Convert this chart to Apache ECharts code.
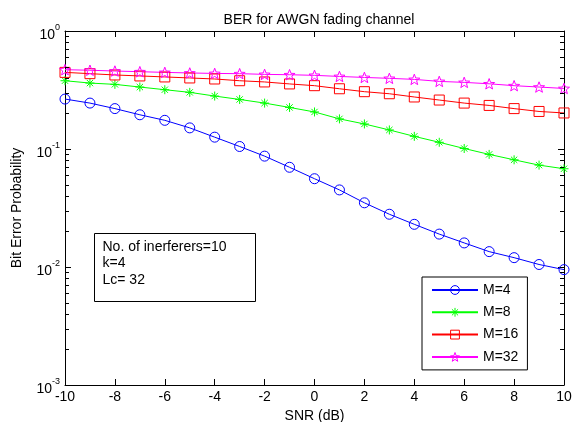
<!DOCTYPE html>
<html>
<head>
<meta charset="utf-8">
<script src="https://cdn.jsdelivr.net/npm/echarts@6/dist/echarts.min.js"></script>
<style>
  html, body { margin: 0; padding: 0; background: #fff; }
  #chart { width: 573px; height: 422px; }
</style>
</head>
<body>
<div id="chart"></div>
<script>
var snr = [-10, -9, -8, -7, -6, -5, -4, -3, -2, -1, 0, 1, 2, 3, 4, 5, 6, 7, 8, 9, 10];
var berM4 = [0.265, 0.245, 0.220, 0.195, 0.175, 0.151, 0.126, 0.105, 0.087, 0.070, 0.056, 0.045, 0.035, 0.028, 0.023, 0.019, 0.016, 0.0135, 0.012, 0.0105, 0.0095];
var berM8 = [0.379, 0.362, 0.353, 0.335, 0.318, 0.302, 0.281, 0.263, 0.245, 0.225, 0.206, 0.180, 0.163, 0.145, 0.128, 0.114, 0.101, 0.090, 0.081, 0.073, 0.068];
var berM16 = [0.446, 0.435, 0.424, 0.416, 0.408, 0.400, 0.392, 0.379, 0.370, 0.356, 0.344, 0.324, 0.306, 0.294, 0.276, 0.260, 0.245, 0.234, 0.220, 0.208, 0.202];
var berM32 = [0.470, 0.465, 0.458, 0.452, 0.446, 0.441, 0.437, 0.435, 0.429, 0.426, 0.421, 0.412, 0.404, 0.397, 0.389, 0.374, 0.367, 0.357, 0.344, 0.335, 0.326];
var seriesNames = ['M=4', 'M=8', 'M=16', 'M=32'];
var noteLines = ['No. of inerferers=10', 'k=4', 'Lc= 32'];
var minorTicks = [0.002, 0.003, 0.004, 0.005, 0.006, 0.007, 0.008, 0.009,
                  0.02, 0.03, 0.04, 0.05, 0.06, 0.07, 0.08, 0.09,
                  0.2, 0.3, 0.4, 0.5, 0.6, 0.7, 0.8, 0.9];

var font = '"Liberation Sans", Arial, sans-serif';
var hollow = 'none';

// pentagram outline for the M=32 markers
function starPath() {
  var pts = [];
  for (var i = 0; i < 10; i++) {
    var r = i % 2 === 0 ? 1 : 0.42;
    var a = -Math.PI / 2 + i * Math.PI / 5;
    pts.push((r * Math.cos(a)).toFixed(3) + ',' + (r * Math.sin(a)).toFixed(3));
  }
  return 'path://M' + pts.join('L') + 'Z';
}
var asterisk = 'path://M0,-1L0,1M-1,0L1,0M-0.7,-0.7L0.7,0.7M-0.7,0.7L0.7,-0.7';

function pairs(ys) {
  return snr.map(function (x, i) { return [x, ys[i]]; });
}

function mkSeries(name, ys, col, symbol, size) {
  return {
    name: name,
    type: 'line',
    data: pairs(ys),
    symbol: symbol,
    symbolSize: size,
    symbolKeepAspect: true,
    showAllSymbol: true,
    lineStyle: { color: col, width: 1 },
    itemStyle: { color: hollow, borderColor: col, borderWidth: 1 },
    emphasis: { disabled: true }
  };
}

function yAx(pos) {
  return {
    type: 'log', logBase: 10, min: 0.001, max: 1, position: pos,
    axisLine: { onZero: false, lineStyle: { color: '#000', width: 1 } },
    axisTick: { show: true, inside: true, length: 6, lineStyle: { color: '#000', width: 1 } },
    axisLabel: { show: false },
    splitLine: { show: false }
  };
}

// matlab style minor ticks of the log axis, on both sides of the box
var minorTickSeries = {
  type: 'custom',
  silent: true,
  clip: false,
  z: 5,
  data: minorTicks.map(function (v) { return [snr[0], v]; }),
  encode: { x: 0, y: 1 },
  renderItem: function (params, api) {
    var v = api.value(1);
    var l = api.coord([snr[0], v]);
    var r = api.coord([snr[snr.length - 1], v]);
    var yy = Math.round(l[1]);
    return {
      type: 'group',
      children: [
        { type: 'rect', shape: { x: Math.round(l[0]), y: yy, width: 4, height: 1 }, style: { fill: '#000' } },
        { type: 'rect', shape: { x: Math.round(r[0]) - 4, y: yy, width: 4, height: 1 }, style: { fill: '#000' } }
      ]
    };
  }
};

var chart = echarts.init(document.getElementById('chart'));

var yMain = yAx('left');
yMain.name = 'Bit Error Probability';
yMain.nameLocation = 'middle';
yMain.nameGap = 41;
yMain.nameTextStyle = { fontFamily: font, fontSize: 14, color: '#000' };
yMain.axisLabel = {
  fontFamily: font,
  color: '#000',
  margin: 5,
  formatter: function (v) {
    var e = Math.round(Math.log10(v));
    return '{b|10}{e|' + e + '}';
  },
  rich: {
    b: { fontSize: 14, fontFamily: font, color: '#000', padding: [8, 0, 0, 0] },
    e: { fontSize: 9, fontFamily: font, color: '#000', padding: [0, 0, 6, 0] }
  }
};

var xTick = { show: true, inside: true, length: 6, lineStyle: { color: '#000', width: 1 } };

var option = {
  animation: false,
  backgroundColor: '#fff',
  title: {
    text: 'BER for AWGN fading channel',
    left: 314, top: 8,
    textAlign: 'center',
    textStyle: { fontFamily: font, fontSize: 14, fontWeight: 'normal', color: '#000' }
  },
  grid: { left: 65, right: 9, top: 31, bottom: 37, containLabel: false, outerBoundsMode: 'none' },
  legend: {
    data: seriesNames,
    orient: 'vertical',
    left: 422, top: 277,
    itemWidth: 46, itemHeight: 11, itemGap: 8.3,
    padding: [6, 9, 6, 9],
    borderColor: '#000', borderWidth: 1,
    backgroundColor: '#fff',
    itemStyle: { color: hollow, borderColor: 'inherit', borderWidth: 1 },
    textStyle: { fontFamily: font, fontSize: 14, color: '#000' },
    selectedMode: false
  },
  xAxis: [{
    type: 'value', min: -10, max: 10, interval: 2,
    name: 'SNR (dB)', nameLocation: 'middle', nameGap: 22,
    nameTextStyle: { fontFamily: font, fontSize: 14, color: '#000' },
    axisLine: { onZero: false, lineStyle: { color: '#000', width: 1 } },
    axisTick: xTick,
    axisLabel: { fontFamily: font, fontSize: 14, color: '#000', margin: 5 },
    splitLine: { show: false }
  }, {
    type: 'value', min: -10, max: 10, interval: 2, position: 'top',
    axisLine: { onZero: false, lineStyle: { color: '#000', width: 1 } },
    axisTick: xTick,
    axisLabel: { show: false },
    splitLine: { show: false }
  }],
  yAxis: [yMain, yAx('right')],
  graphic: [{
    type: 'group', left: 94, top: 233,
    children: [{
      type: 'rect',
      shape: { x: 0, y: 0, width: 161, height: 68 },
      style: { fill: '#fff', stroke: '#000', lineWidth: 1 }
    }, {
      type: 'text', x: 8, y: 5,
      style: {
        text: noteLines.join('\n'),
        font: '14px ' + font,
        lineHeight: 16.5,
        fill: '#000'
      }
    }]
  }],
  series: [
    minorTickSeries,
    mkSeries(seriesNames[0], berM4, '#0000ff', 'circle', 10),
    mkSeries(seriesNames[1], berM8, '#00ff00', asterisk, 9),
    mkSeries(seriesNames[2], berM16, '#ff0000', 'rect', 10),
    mkSeries(seriesNames[3], berM32, '#ff00ff', starPath(), 11)
  ]
};
chart.setOption(option);
</script>
</body>
</html>
